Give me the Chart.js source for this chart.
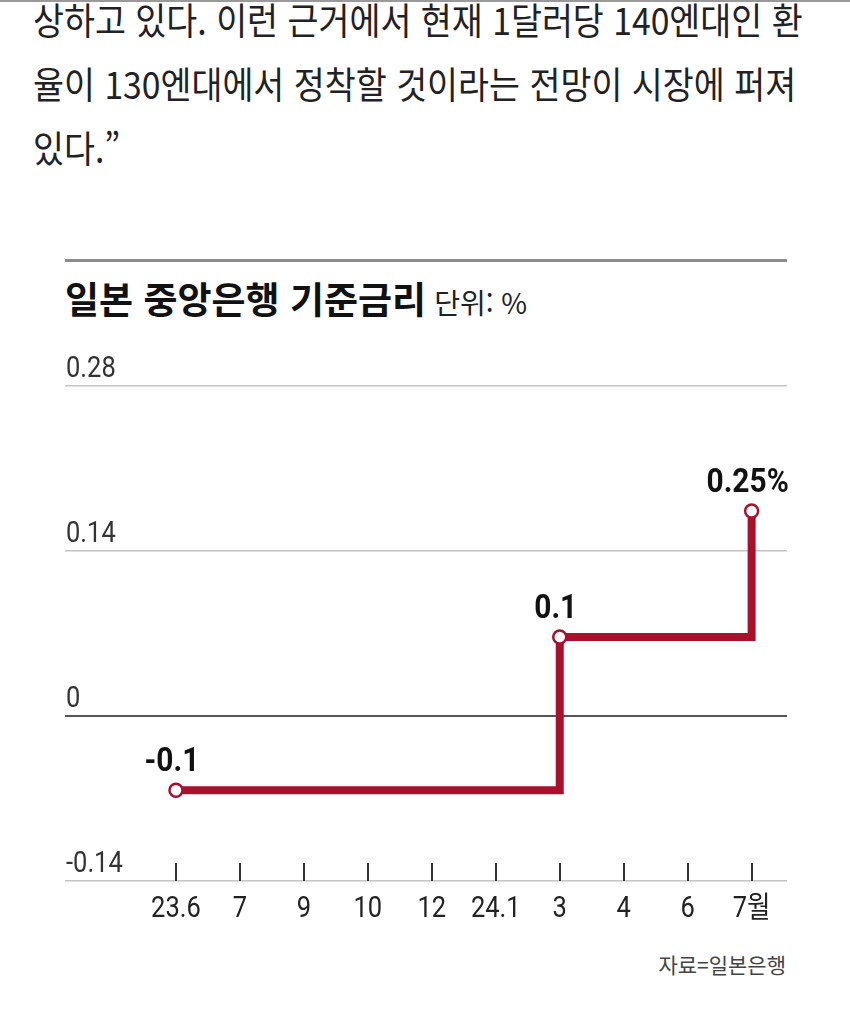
<!DOCTYPE html>
<html lang="ko">
<head>
<meta charset="utf-8">
<script src="https://cdn.jsdelivr.net/npm/chart.js@4.4.1/dist/chart.umd.min.js"></script>
<style>
  body { margin: 0; width: 850px; height: 1011px; background: #fff; position: relative; overflow: hidden; font-family: "Noto Sans CJK KR", sans-serif; }
  .topline { position: absolute; left: 0; top: 0; width: 850px; height: 2px; background: #9a9a9a; }
  .para { position: absolute; left: 33px; top: -13px; font-size: 37px; line-height: 64px; color: #222; white-space: nowrap; transform: scaleX(0.91); transform-origin: left top; }
  .rule { position: absolute; left: 65px; top: 259px; width: 722px; height: 3px; background: #8c8c8c; }
  .title { position: absolute; left: 65px; top: 271px; white-space: nowrap; color: #111; }
  .title b { font-size: 37px; font-weight: 700; }
  .title span { font-size: 28px; color: #222; margin-left: 8px; }
  .source { position: absolute; right: 64px; top: 949px; font-size: 21px; color: #444; }
  #wrap { position: absolute; left: 0; top: 330px; width: 850px; height: 650px; }
</style>
</head>
<body>
<div class="topline"></div>
<div class="para">상하고 있다. 이런 근거에서 현재 1달러당 140엔대인 환<br>율이 130엔대에서 정착할 것이라는 전망이 시장에 퍼져<br>있다.”</div>
<div class="rule"></div>
<div class="title"><b>일본 중앙은행 기준금리</b><span>단위: %</span></div>
<div class="source">자료=일본은행</div>
<div id="wrap"><canvas id="rateChart"></canvas></div>
<script>
// months on the x axis (2023.6 ~ 2024.7)
const months = ['23.6', '7', '9', '10', '12', '24.1', '3', '4', '6', '7월'];
// plotted level of the line
const rates = [-0.063, -0.063, -0.063, -0.063, -0.063, -0.063, 0.067, 0.067, 0.067, 0.174];
// labels printed above the marked points
const rateLabels = ['-0.1', '', '', '', '', '', '0.1', '', '', '0.25%'];
const yTicks = [-0.14, 0, 0.14, 0.28];
const yTickLabels = ['-0.14', '0', '0.14', '0.28'];

const RED = '#a8102c';
const FONT = 'Roboto, "Noto Sans CJK KR", sans-serif';

// condensed text: squeeze horizontally around the anchor point
function squeezeText(ctx, txt, x, y, sx) {
    ctx.save();
    ctx.translate(x, y);
    ctx.scale(sx, 1);
    ctx.fillText(txt, 0, 0);
    ctx.restore();
}

// y labels sit on top of their grid line, x ticks stand above the axis
const decorPlugin = {
    id: 'decor',
    afterDraw(chart) {
        const { ctx, scales: { x, y }, chartArea } = chart;
        ctx.save();
        ctx.font = '30px ' + FONT;
        ctx.fillStyle = '#333';
        ctx.textAlign = 'left';
        ctx.textBaseline = 'alphabetic';
        yTicks.forEach((v, i) => {
            squeezeText(ctx, yTickLabels[i], chartArea.left + 1, y.getPixelForValue(v) - 9, 0.85);
        });
        ctx.textAlign = 'center';
        ctx.fillStyle = '#222';
        months.forEach((m, i) => {
            squeezeText(ctx, m, x.getPixelForValue(i), chartArea.bottom + 36, 0.85);
        });
        ctx.strokeStyle = '#333';
        ctx.lineWidth = 2;
        months.forEach((m, i) => {
            const px = Math.round(x.getPixelForValue(i));
            ctx.beginPath();
            ctx.moveTo(px, chartArea.bottom - 18);
            ctx.lineTo(px, chartArea.bottom);
            ctx.stroke();
        });
        ctx.restore();
    },
    afterDatasetsDraw(chart) {
        const { ctx } = chart;
        const meta = chart.getDatasetMeta(0);
        ctx.save();
        ctx.font = 'bold 34px ' + FONT;
        ctx.fillStyle = '#111';
        ctx.textAlign = 'center';
        ctx.textBaseline = 'alphabetic';
        meta.data.forEach((pt, i) => {
            if (rateLabels[i]) squeezeText(ctx, rateLabels[i], pt.x - 4, pt.y - 19, 0.88);
        });
        ctx.restore();
    }
};

new Chart(document.getElementById('rateChart'), {
    type: 'line',
    data: {
        datasets: [{
            data: rates.map((v, i) => ({ x: i, y: v })),
            borderColor: RED,
            borderWidth: 8,
            borderJoinStyle: 'miter',
            borderCapStyle: 'butt',
            stepped: 'before',
            fill: false,
            pointRadius: rateLabels.map(l => l ? 6.5 : 0),
            pointBackgroundColor: '#fff',
            pointBorderColor: RED,
            pointBorderWidth: 2.5,
            clip: false
        }]
    },
    options: {
        responsive: true,
        maintainAspectRatio: false,
        animation: false,
        layout: { padding: { left: 65, right: 63, top: 56, bottom: 29 } },
        plugins: { legend: { display: false }, tooltip: { enabled: false } },
        scales: {
            x: {
                type: 'linear',
                min: -1.735,
                max: 9.553,
                afterBuildTicks: s => { s.ticks = months.map((m, i) => ({ value: i })); },
                afterFit: s => { s.height = 70; },
                grid: { display: false, drawTicks: false },
                border: { display: false },
                ticks: { display: false }
            },
            y: {
                min: -0.14,
                max: 0.28,
                afterBuildTicks: s => { s.ticks = yTicks.map(v => ({ value: v })); },
                afterFit: s => { s.width = 0; },
                ticks: { display: false },
                border: { display: false },
                grid: {
                    drawTicks: false,
                    color: c => c.tick.value === 0 ? '#555' : '#c4c4c4',
                    lineWidth: c => c.tick.value === 0 ? 2 : 1.5
                }
            }
        }
    },
    plugins: [decorPlugin]
});
</script>
</body>
</html>
